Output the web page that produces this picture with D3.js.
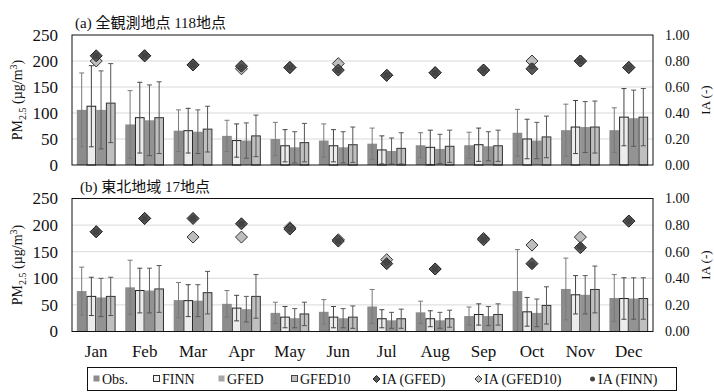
<!DOCTYPE html>
<html>
<head>
<meta charset="utf-8">
<style>
  body { margin: 0; background: #fff; }
  svg text { font-family: "Liberation Serif", "Noto Sans CJK JP", serif; fill: #111; }
</style>
</head>
<body>
<svg width="714" height="392"></svg>
<script src="https://d3js.org/d3.v7.min.js"></script>
<script>
const months = ["Jan", "Feb", "Mar", "Apr", "May", "Jun", "Jul", "Aug", "Sep", "Oct", "Nov", "Dec"];
const seriesNames = ["Obs.", "FINN", "GFED", "GFED10"];
const leftTicks = [0, 50, 100, 150, 200, 250];
const rightTicks = [0, 0.2, 0.4, 0.6, 0.8, 1.0];

// (a) all 118 sites
const obsA     = [106, 78, 66, 56, 50, 47, 41, 38, 38, 62, 67, 67];
const finnA    = [113, 91, 66, 47, 37, 37, 29, 34, 39, 50, 73, 92];
const gfedA    = [106, 86, 64, 47, 34, 34, 27, 31, 36, 47, 73, 90];
const gfed10A  = [119, 91, 69, 56, 43, 39, 32, 36, 37, 54, 73, 92];
const obsSdA   = [71, 65, 40, 30, 32, 32, 30, 24, 25, 45, 50, 43];
const finnSdA  = [78, 68, 43, 32, 31, 31, 27, 33, 32, 38, 51, 55];
const gfedSdA  = [75, 68, 42, 34, 30, 30, 25, 28, 28, 35, 49, 54];
const gfed10SdA = [76, 69, 44, 40, 37, 34, 30, 31, 30, 40, 50, 55];
const iaGfedA   = [0.84, 0.84, 0.77, 0.76, 0.75, 0.73, 0.69, 0.71, 0.73, 0.74, 0.80, 0.75];
const iaGfed10A = [0.80, 0.84, 0.77, 0.74, 0.75, 0.78, 0.69, 0.71, 0.73, 0.80, 0.80, 0.75];
const iaFinnA   = [0.84, 0.84, 0.77, 0.75, 0.75, 0.73, 0.69, 0.71, 0.73, 0.76, 0.80, 0.75];

// (b) Tohoku 17 sites
const obsB     = [76, 83, 59, 52, 35, 37, 47, 36, 29, 76, 80, 63];
const finnB    = [66, 77, 58, 44, 27, 27, 24, 24, 32, 37, 69, 62];
const gfedB    = [64, 77, 58, 42, 25, 25, 21, 21, 29, 35, 69, 62];
const gfed10B  = [66, 80, 73, 66, 33, 27, 24, 24, 32, 49, 79, 62];
const obsSdB   = [45, 51, 33, 25, 20, 23, 32, 21, 17, 78, 58, 44];
const finnSdB  = [36, 42, 30, 24, 20, 20, 17, 15, 20, 27, 36, 39];
const gfedSdB  = [36, 42, 30, 24, 18, 18, 15, 15, 18, 26, 36, 39];
const gfed10SdB = [36, 44, 40, 41, 22, 21, 18, 16, 20, 35, 44, 39];
const iaGfedB   = [0.75, 0.85, 0.85, 0.81, 0.77, 0.68, 0.51, 0.47, 0.69, 0.51, 0.63, 0.83];
const iaGfed10B = [0.75, 0.85, 0.71, 0.71, 0.78, 0.69, 0.54, 0.47, 0.70, 0.65, 0.71, 0.83];
const iaFinnB   = [0.75, 0.85, 0.85, 0.81, 0.77, 0.68, 0.52, 0.47, 0.69, 0.50, 0.64, 0.83];

const barFill = { "Obs.": "#8c8c8c", "FINN": "#ececec", "GFED": "#939393", "GFED10": "#bfbfbf" };
const barStroke = { "Obs.": "none", "FINN": "#222", "GFED": "none", "GFED10": "#333" };
const errColor = { "Obs.": "#7a7a7a", "FINN": "#444", "GFED": "#5a5a5a", "GFED10": "#555" };

const svg = d3.select("svg");
const left = 72, right = 653;

const x0 = d3.scaleBand().domain(months).range([left, right]).padding(0);
const x1 = d3.scaleBand().domain(seriesNames).range([0, x0.bandwidth()]).paddingInner(0).paddingOuter(0.5);

function diamond(cx, cy, r) {
    return `M${cx},${cy - r}L${cx + r},${cy}L${cx},${cy + r}L${cx - r},${cy}Z`;
}

function drawPanel(p) {
    const y = d3.scaleLinear().domain([0, 250]).range([p.bottom, p.top]);
    const yIA = d3.scaleLinear().domain([0, 1]).range([p.bottom, p.top]);
    const g = svg.append("g");

    // gridlines
    g.selectAll(".grid").data(leftTicks.slice(1, -1)).join("line")
        .attr("x1", left).attr("x2", right)
        .attr("y1", d => y(d)).attr("y2", d => y(d))
        .attr("stroke", "#d9d9d9").attr("stroke-width", 1);

    // left axis
    const yAxis = d3.axisLeft(y).tickValues(leftTicks).tickSize(0).tickPadding(14);
    const ga = g.append("g").attr("transform", `translate(${left},0)`).call(yAxis);
    ga.select(".domain").remove();
    ga.selectAll("text").style("font-family", "Liberation Serif").style("font-size", "17px").attr("fill", "#111");

    // right axis
    const yAxisR = d3.axisRight(yIA).tickValues(rightTicks).tickSize(0).tickPadding(12).tickFormat(d3.format(".2f"));
    const gr = g.append("g").attr("transform", `translate(${right},0)`).call(yAxisR);
    gr.select(".domain").remove();
    gr.selectAll("text").style("font-family", "Liberation Serif").style("font-size", "14px").attr("fill", "#111");

    // bars
    const series = [
        { name: "Obs.", vals: p.obs, sd: p.obsSd },
        { name: "FINN", vals: p.finn, sd: p.finnSd },
        { name: "GFED", vals: p.gfed, sd: p.gfedSd },
        { name: "GFED10", vals: p.gfed10, sd: p.gfed10Sd }
    ];
    series.forEach(s => {
        const rows = months.map((m, i) => ({ m, v: s.vals[i], sd: s.sd[i] }));
        g.append("g").selectAll("rect").data(rows).join("rect")
            .attr("x", d => x0(d.m) + x1(s.name) + (barStroke[s.name] === "none" ? 0 : 0.5))
            .attr("y", d => y(d.v))
            .attr("width", x1.bandwidth() - (barStroke[s.name] === "none" ? 0 : 1))
            .attr("height", d => y(0) - y(d.v))
            .attr("fill", barFill[s.name])
            .attr("stroke", barStroke[s.name])
            .attr("stroke-width", 1);
    });
    // error bars
    series.forEach(s => {
        const rows = months.map((m, i) => ({ m, v: s.vals[i], sd: s.sd[i] }));
        const eg = g.append("g").attr("stroke", errColor[s.name]).attr("stroke-width", 1);
        const cx = d => x0(d.m) + x1(s.name) + x1.bandwidth() / 2;
        eg.selectAll(".v").data(rows).join("line")
            .attr("x1", cx).attr("x2", cx)
            .attr("y1", d => y(Math.max(0, d.v - d.sd))).attr("y2", d => y(d.v + d.sd));
        eg.selectAll(".t").data(rows).join("line")
            .attr("x1", d => cx(d) - 2.5).attr("x2", d => cx(d) + 2.5)
            .attr("y1", d => y(d.v + d.sd)).attr("y2", d => y(d.v + d.sd));
        eg.selectAll(".b").data(rows.filter(d => d.v - d.sd > 0)).join("line")
            .attr("x1", d => cx(d) - 2.5).attr("x2", d => cx(d) + 2.5)
            .attr("y1", d => y(d.v - d.sd)).attr("y2", d => y(d.v - d.sd));
    });

    // frame
    g.append("rect").attr("x", left).attr("y", p.top).attr("width", right - left).attr("height", p.bottom - p.top)
        .attr("fill", "none").attr("stroke", "#111").attr("stroke-width", 1);

    // IA markers
    const mx = m => x0(m) + x0.bandwidth() / 2;
    g.append("g").selectAll("path").data(months).join("path")
        .attr("d", (m, i) => diamond(mx(m), yIA(p.iaGfed10[i]), 6))
        .attr("fill", "#bdbdbd").attr("stroke", "#333").attr("stroke-width", 1);
    g.append("g").selectAll("path").data(months).join("path")
        .attr("d", (m, i) => diamond(mx(m), yIA(p.iaGfed[i]), 6))
        .attr("fill", "#595959").attr("stroke", "#222").attr("stroke-width", 1);
    g.append("g").selectAll("circle").data(months).join("circle")
        .attr("cx", mx).attr("cy", (m, i) => yIA(p.iaFinn[i])).attr("r", 3.3)
        .attr("fill", "#444");

    // title
    g.append("text").attr("x", p.titleX).attr("y", p.top - 7).style("font-size", "15px").text(p.title);

    // y labels
    const cy = (p.top + p.bottom) / 2;
    const yl = g.append("text").attr("transform", `translate(22,${cy}) rotate(-90)`)
        .attr("text-anchor", "middle").style("font-size", "14px");
    yl.append("tspan").text("PM");
    yl.append("tspan").attr("dy", 4).style("font-size", "10px").text("2.5");
    yl.append("tspan").attr("dy", -4).text(" (µg/m");
    yl.append("tspan").attr("dy", -5).style("font-size", "10px").text("3");
    yl.append("tspan").attr("dy", 5).text(")");

    g.append("text").attr("transform", `translate(710,${cy}) rotate(-90)`)
        .attr("text-anchor", "middle").style("font-size", "13px").text("IA (-)");
}

drawPanel({
    top: 35, bottom: 165, title: "(a) 全観測地点 118地点", titleX: 75,
    obs: obsA, finn: finnA, gfed: gfedA, gfed10: gfed10A,
    obsSd: obsSdA, finnSd: finnSdA, gfedSd: gfedSdA, gfed10Sd: gfed10SdA,
    iaGfed: iaGfedA, iaGfed10: iaGfed10A, iaFinn: iaFinnA
});
drawPanel({
    top: 198.5, bottom: 331.5, title: "(b) 東北地域 17地点", titleX: 80,
    obs: obsB, finn: finnB, gfed: gfedB, gfed10: gfed10B,
    obsSd: obsSdB, finnSd: finnSdB, gfedSd: gfedSdB, gfed10Sd: gfed10SdB,
    iaGfed: iaGfedB, iaGfed10: iaGfed10B, iaFinn: iaFinnB
});

// month labels
svg.append("g").selectAll("text").data(months).join("text")
    .attr("x", m => x0(m) + x0.bandwidth() / 2).attr("y", 357)
    .attr("text-anchor", "middle").style("font-size", "17px").text(m => m);

// legend
const legendItems = [
    { label: "Obs.", x: 93, kind: "sq", fill: barFill["Obs."], stroke: "none" },
    { label: "FINN", x: 153, kind: "sq", fill: "#f2f2f2", stroke: "#333" },
    { label: "GFED", x: 218, kind: "sq", fill: "#a6a6a6", stroke: "none" },
    { label: "GFED10", x: 291, kind: "sq", fill: "#bfbfbf", stroke: "#444" },
    { label: "IA (GFED)", x: 373, kind: "dm", fill: "#595959", stroke: "#222" },
    { label: "IA (GFED10)", x: 475, kind: "dm", fill: "#bdbdbd", stroke: "#333" },
    { label: "IA (FINN)", x: 589, kind: "ci", fill: "#444", stroke: "none" }
];
svg.append("rect").attr("x", 87.5).attr("y", 367.5).attr("width", 589).attr("height", 23)
    .attr("fill", "none").attr("stroke", "#111").attr("stroke-width", 1);
const lg = svg.append("g");
legendItems.forEach(d => {
    const ly = 379;
    if (d.kind === "sq") {
        lg.append("rect").attr("x", d.x + 0.5).attr("y", ly - 3.5).attr("width", 6).attr("height", 6)
            .attr("fill", d.fill).attr("stroke", d.stroke);
    } else if (d.kind === "dm") {
        lg.append("path").attr("d", diamond(d.x + 3.5, ly, 3.5)).attr("fill", d.fill).attr("stroke", d.stroke);
    } else {
        lg.append("circle").attr("cx", d.x + 3.5).attr("cy", ly).attr("r", 2.5).attr("fill", d.fill);
    }
    lg.append("text").attr("x", d.x + 9).attr("y", ly + 5).style("font-size", "14px").text(d.label);
});
</script>
</body>
</html>
